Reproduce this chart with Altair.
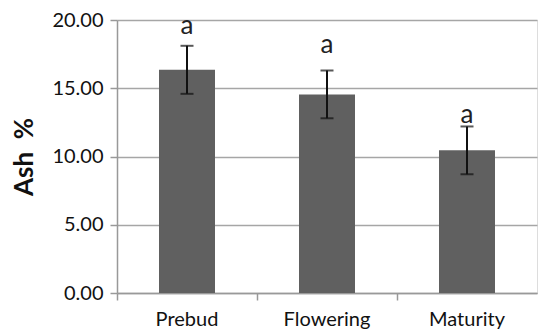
import altair as alt
import pandas as pd

stages = ["Prebud", "Flowering", "Maturity"]
means = [16.35, 14.55, 10.45]
errors = [1.76, 1.75, 1.75]
letters = ["a", "a", "a"]
letter_y = [18.95, 17.55, 12.45]

df = pd.DataFrame({
    "stage": stages,
    "mean": means,
    "err": errors,
    "letter": letters,
    "ly": letter_y,
})
df["lo"] = df["mean"] - df["err"]
df["hi"] = df["mean"] + df["err"]

FONT = "Lato"

x = alt.X("stage:N", sort=stages, title=None,
          scale=alt.Scale(paddingInner=0, paddingOuter=0),
          axis=alt.Axis(bandPosition=0, labelAngle=0, labelFont=FONT, labelFontSize=20,
                        labelColor="#111111", labelPadding=9, tickSize=7,
                        tickColor="#999999", domainColor="#999999", domainWidth=1.5,
                        tickWidth=1.5, grid=False))

yscale = alt.Scale(domain=[0, 20], nice=False)

bars = alt.Chart(df).mark_bar(size=56, color="#606060").encode(
    x=x,
    y=alt.Y("mean:Q", scale=yscale, title="Ash\u00a0\u00a0%",
            axis=alt.Axis(values=[0, 5, 10, 15, 20], format=".2f", labelFont=FONT,
                          labelFontSize=20, labelColor="#111111", labelPadding=7,
                          tickSize=7, tickColor="#999999", tickWidth=1.5,
                          domainColor="#999999", domainWidth=1.5,
                          gridColor="#a6a6a6", gridWidth=1.5,
                          titleFont=FONT, titleFontSize=26, titleFontWeight="bold",
                          titleColor="#111111", titleX=-93, titleY=136.5, titleAngle=-90,
                          titleAlign="center", titleBaseline="middle")),
)

rule = alt.Chart(df).mark_rule(color="#111111", strokeWidth=2).encode(
    x=alt.X("stage:N", sort=stages), y="lo:Q", y2="hi:Q")
cap_hi = alt.Chart(df).mark_tick(color="#111111", size=13, thickness=2, orient="horizontal").encode(
    x=alt.X("stage:N", sort=stages), y="hi:Q")
cap_lo = alt.Chart(df).mark_tick(color="#111111", size=13, thickness=2, orient="horizontal").encode(
    x=alt.X("stage:N", sort=stages), y="lo:Q")
text = alt.Chart(df).mark_text(font=FONT, fontSize=26, color="#222222", baseline="alphabetic").encode(
    x=alt.X("stage:N", sort=stages), y="ly:Q", text="letter:N")

chart = alt.layer(bars, rule, cap_hi, cap_lo, text).properties(
    width=420, height=273,
    padding={"left": 117, "top": 20, "right": 1, "bottom": 42},
    autosize=alt.AutoSizeParams(type="none"),
).configure_view(stroke=None).configure(background="white")

chart.save("out.html", embed_options={"renderer": "svg", "actions": False})
